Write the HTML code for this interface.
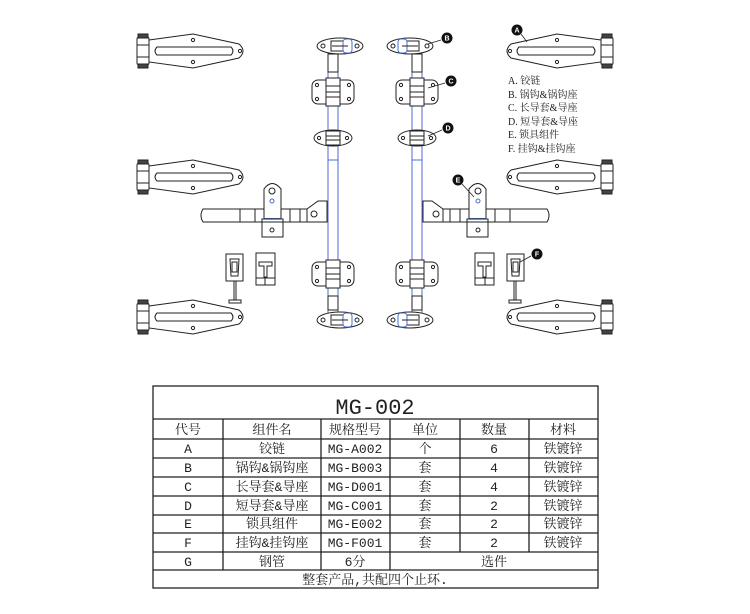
<!DOCTYPE html>
<html><head><meta charset="utf-8"><style>
html,body{margin:0;padding:0;background:#fff;width:750px;height:614px;overflow:hidden}
svg{display:block}
text{font-family:"Liberation Serif","Noto Serif CJK SC",serif;fill:#222}
.tb text{font-family:"Liberation Mono","Noto Serif CJK SC",serif}
</style></head><body>
<svg width="750" height="614" viewBox="0 0 750 614" xmlns="http://www.w3.org/2000/svg">
<defs>
<g id="hinge" fill="none" stroke="#222" stroke-width="1">
  <rect x="-6" y="-14" width="12" height="28" rx="2" fill="#fff"/>
  <rect x="-5" y="-17" width="10" height="4" fill="#444"/>
  <rect x="-5" y="13" width="10" height="4" fill="#444"/>
  <line x1="-6" y1="-6" x2="6" y2="-6"/><line x1="-6" y1="6" x2="6" y2="6"/>
  <path d="M6,-11 L50,-17 L96,-7 Q104,0 96,7 L50,17 L6,11 Z" fill="#fff"/>
  <path d="M14,-4 L88,-4 Q92,0 88,4 L14,4 Q10,0 14,-4 Z"/>
  <circle cx="50" cy="-11" r="1.6"/><circle cx="50" cy="11" r="1.6"/><circle cx="97" cy="0" r="1.6"/>
</g>
<g id="camB" fill="none" stroke="#222" stroke-width="1">
  <ellipse cx="0" cy="0" rx="23" ry="8" fill="#fff"/>
  <circle cx="-17" cy="0" r="2"/><circle cx="17" cy="0" r="2"/>
  <rect x="-9" y="-5" width="18" height="10" fill="#fff"/>
  <rect x="3" y="-7" width="9" height="14" rx="3" stroke="#4a6fd0" fill="#fff"/>
  <line x1="-8" y1="0" x2="8" y2="0"/>
</g>
<g id="guideC" fill="none" stroke="#222" stroke-width="1">
  <rect x="-21" y="-12" width="42" height="24" rx="6" fill="#fff"/>
  <circle cx="-16" cy="-7" r="1.6"/><circle cx="16" cy="-7" r="1.6"/>
  <circle cx="-16" cy="7" r="1.6"/><circle cx="16" cy="7" r="1.6"/>
  <rect x="-7" y="-14" width="14" height="28" fill="#fff"/>
  <line x1="-7" y1="-6" x2="7" y2="-6"/><line x1="-7" y1="0" x2="7" y2="0"/><line x1="-7" y1="5" x2="7" y2="5"/>
</g>
<g id="guideD" fill="none" stroke="#222" stroke-width="1">
  <ellipse cx="0" cy="0" rx="19" ry="8" fill="#fff"/>
  <circle cx="-14" cy="0" r="1.6"/><circle cx="14" cy="0" r="1.6"/>
  <rect x="-7" y="-7" width="14" height="14" fill="#fff"/>
  <line x1="-7" y1="-2" x2="7" y2="-2"/><line x1="-7" y1="2" x2="7" y2="2"/>
</g>
<g id="side">
  <rect x="328" y="50" width="10" height="268" fill="none" stroke="#4a6fd0" stroke-width="1"/>
  <line x1="328" y1="160" x2="338" y2="160" stroke="#4a6fd0"/>
  <use href="#camB" x="340" y="46"/>
  <rect x="328" y="54" width="10" height="18" fill="#fff" stroke="#222"/>
  <use href="#guideC" x="333" y="92"/>
  <use href="#guideD" x="333" y="138"/>
  <use href="#guideC" x="333" y="274"/>
  <rect x="328" y="296" width="10" height="14" fill="#fff" stroke="#222"/>
  <use href="#camB" x="340" y="320"/>
  <g fill="#fff" stroke="#222" stroke-width="1">
    <path d="M203,209 L318,209 L318,222 L203,222 Q199,215.5 203,209 Z"/>
    <line x1="240" y1="209" x2="240" y2="222"/><line x1="255" y1="209" x2="255" y2="222"/>
    <line x1="290" y1="209" x2="290" y2="222"/><line x1="300" y1="209" x2="300" y2="222"/>
    <path d="M307,209 L318,201 L327,201 L327,222 L307,222 Z"/>
    <circle cx="314" cy="214" r="3"/>
    <path d="M264,218 L264,189 Q272,178 281,189 L281,218 Z" stroke="#4a6fd0"/>
    <path d="M264,218 L264,189 Q272,178 281,189 L281,218"/>
    <circle cx="272" cy="191" r="3"/><circle cx="272" cy="201" r="2" stroke="#4a6fd0"/>
    <rect x="262" y="219" width="21" height="18"/>
    <line x1="262" y1="222" x2="283" y2="222"/>
    <circle cx="272" cy="230" r="2"/>
    <rect x="226" y="254" width="17" height="27"/>
    <path d="M230,259 L239,259 L238,276 L231,276 Z"/>
    <rect x="232" y="262" width="5" height="10"/>
    <line x1="234" y1="281" x2="234" y2="300"/><line x1="236" y1="281" x2="236" y2="300"/>
    <rect x="229" y="300" width="12" height="3"/>
    <rect x="256" y="253" width="19" height="32"/>
    <path d="M259,262 L272,262 L272,266 L267,266 L267,277 L264,277 L264,266 L259,266 Z"/>
    <line x1="256" y1="278" x2="275" y2="278"/><line x1="265" y1="278" x2="265" y2="285"/>
  </g>
  <use href="#hinge" x="143" y="51"/>
  <use href="#hinge" x="143" y="177"/>
  <use href="#hinge" x="143" y="317"/>
</g>
<g id="dot"><circle r="5.5" fill="#111"/></g>
</defs>

<use href="#side"/>
<g transform="translate(750,0) scale(-1,1)"><use href="#side"/></g>

<g stroke="#222" stroke-width="0.8">
  <line x1="441" y1="40" x2="428" y2="44"/>
  <line x1="445" y1="83" x2="428" y2="88"/>
  <line x1="442" y1="130" x2="428" y2="136"/>
  <line x1="462" y1="184" x2="474" y2="197"/>
  <line x1="531" y1="256" x2="520" y2="262"/>
  <line x1="521" y1="34" x2="527" y2="42"/>
</g>
<g font-size="7" font-weight="bold" text-anchor="middle">
  <use href="#dot" x="447" y="38"/><text x="447" y="40.5" style="fill:#fff;font-family:'Liberation Sans',sans-serif">B</text>
  <use href="#dot" x="451" y="81"/><text x="451" y="83.5" style="fill:#fff;font-family:'Liberation Sans',sans-serif">C</text>
  <use href="#dot" x="448" y="128"/><text x="448" y="130.5" style="fill:#fff;font-family:'Liberation Sans',sans-serif">D</text>
  <use href="#dot" x="458" y="180"/><text x="458" y="182.5" style="fill:#fff;font-family:'Liberation Sans',sans-serif">E</text>
  <use href="#dot" x="537" y="254"/><text x="537" y="256.5" style="fill:#fff;font-family:'Liberation Sans',sans-serif">F</text>
  <use href="#dot" x="517" y="30"/><text x="517" y="32.5" style="fill:#fff;font-family:'Liberation Sans',sans-serif">A</text>
</g>

<g font-size="10">
  <text x="508" y="84">A. 铰链</text>
  <text x="508" y="98">B. 锅钩&amp;锅钩座</text>
  <text x="508" y="111">C. 长导套&amp;导座</text>
  <text x="508" y="125">D. 短导套&amp;导座</text>
  <text x="508" y="138">E. 锁具组件</text>
  <text x="508" y="152">F. 挂钩&amp;挂钩座</text>
</g>

<g stroke="#222" stroke-width="1.3" fill="none">
  <rect x="153" y="386" width="445" height="202"/>
  <line x1="153" y1="419" x2="598" y2="419"/>
  <line x1="153" y1="439" x2="598" y2="439"/>
  <line x1="153" y1="458" x2="598" y2="458"/>
  <line x1="153" y1="477" x2="598" y2="477"/>
  <line x1="153" y1="496" x2="598" y2="496"/>
  <line x1="153" y1="515" x2="598" y2="515"/>
  <line x1="153" y1="533" x2="598" y2="533"/>
  <line x1="153" y1="552" x2="598" y2="552"/>
  <line x1="153" y1="570" x2="598" y2="570"/>
  <line x1="223" y1="419" x2="223" y2="570"/>
  <line x1="321" y1="419" x2="321" y2="570"/>
  <line x1="390" y1="419" x2="390" y2="570"/>
  <line x1="460" y1="419" x2="460" y2="552"/>
  <line x1="529" y1="419" x2="529" y2="552"/>
</g>
<g class="tb" font-size="13" text-anchor="middle">
  <text x="375" y="414" font-size="22">MG-002</text>
  <text x="188" y="434">代号</text><text x="272" y="434">组件名</text><text x="355" y="434">规格型号</text><text x="425" y="434">单位</text><text x="494" y="434">数量</text><text x="563" y="434">材料</text>
  <text x="188" y="453">A</text><text x="272" y="453">铰链</text><text x="355" y="453">MG-A002</text><text x="425" y="453">个</text><text x="494" y="453">6</text><text x="563" y="453">铁镀锌</text>
  <text x="188" y="472">B</text><text x="272" y="472">锅钩&amp;锅钩座</text><text x="355" y="472">MG-B003</text><text x="425" y="472">套</text><text x="494" y="472">4</text><text x="563" y="472">铁镀锌</text>
  <text x="188" y="491">C</text><text x="272" y="491">长导套&amp;导座</text><text x="355" y="491">MG-D001</text><text x="425" y="491">套</text><text x="494" y="491">4</text><text x="563" y="491">铁镀锌</text>
  <text x="188" y="510">D</text><text x="272" y="510">短导套&amp;导座</text><text x="355" y="510">MG-C001</text><text x="425" y="510">套</text><text x="494" y="510">2</text><text x="563" y="510">铁镀锌</text>
  <text x="188" y="528">E</text><text x="272" y="528">锁具组件</text><text x="355" y="528">MG-E002</text><text x="425" y="528">套</text><text x="494" y="528">2</text><text x="563" y="528">铁镀锌</text>
  <text x="188" y="547">F</text><text x="272" y="547">挂钩&amp;挂钩座</text><text x="355" y="547">MG-F001</text><text x="425" y="547">套</text><text x="494" y="547">2</text><text x="563" y="547">铁镀锌</text>
  <text x="188" y="566">G</text><text x="272" y="566">钢管</text><text x="355" y="566">6分</text><text x="494" y="566">选件</text>
  <text x="375" y="584">整套产品,共配四个止环.</text>
</g>
</svg>
</body></html>
